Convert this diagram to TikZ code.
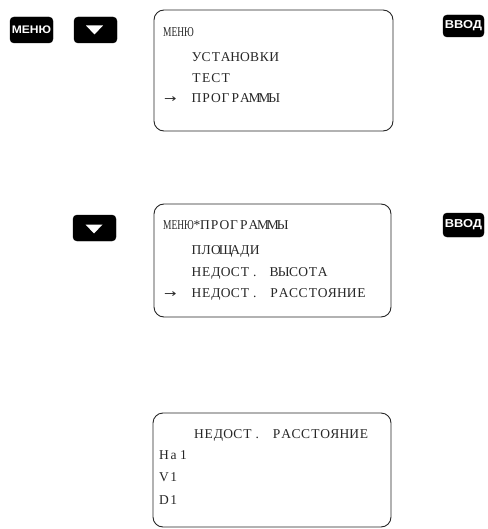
\documentclass[tikz,border=0pt]{standalone}
\usepackage{fontspec}
\setmainfont{Liberation Serif}
\newfontfamily\scrfont{Liberation Serif}
\newfontfamily\btnfont{Liberation Sans}
\newfontfamily\arrfont{DejaVu Sans}
\ExplSyntaxOn
\NewDocumentCommand\mono{m}{\tl_map_inline:nn {#1} {\makebox[9.7pt][c]{##1}}}
\ExplSyntaxOff
\newcommand\narrow[1]{\scalebox{0.7}[1]{#1}}
\newcommand\rarr{\scalebox{1.35}[1]{\arrfont\fontsize{11}{11}\selectfont →}}
\begin{document}
\begin{tikzpicture}[x=1pt,y=-1pt,
  screen/.style={draw=black!85,line width=0.9pt,rounded corners=10pt},
  btn/.style={fill=black,rounded corners=4pt},
  btntext/.style={text=white,inner sep=0pt},
  ln/.style={anchor=base west,inner sep=0pt,font=\scrfont\fontsize{13.5}{13.5}\selectfont,text=black!85}]
\useasboundingbox (0,0) rectangle (487,529);
% buttons row 1
\filldraw[btn] (10,17) rectangle (53,43);
\node[btntext] (menu) at (31.5,30) {\scalebox{1.1}[1]{\btnfont\bfseries\fontsize{11}{11}\selectfont МЕНЮ}};
\filldraw[btn] (74,17) rectangle (117,43);
\fill[white] (86,25.5) -- (103,25.5) -- (94.5,34.5) -- cycle;
\filldraw[btn] (443,15) rectangle (484,37);
\node[btntext] (enter1) at (463.5,26) {\scalebox{1.12}[1]{\btnfont\bfseries\fontsize{11.5}{11.5}\selectfont ВВОД}};
% screen 1
\draw[screen] (154,10) rectangle (393,131);
\node[ln] (s1a) at (163,37) {\narrow{МЕНЮ}};
\node[ln] (s1b) at (191.5,62) {\mono{УСТАНОВКИ}};
\node[ln] (s1c) at (191.5,82.5) {\mono{ТЕСТ}};
\node[ln] (s1d) at (164,103) {\rarr};
\node[ln] (s1e) at (191.5,103) {\mono{ПРОГРАММЫ}};
% buttons row 2
\filldraw[btn] (73,215) rectangle (116,241);
\fill[white] (85.5,224.5) -- (102.5,224.5) -- (94,233.5) -- cycle;
\filldraw[btn] (443,213) rectangle (484,237);
\node[btntext] (enter2) at (463.5,225) {\scalebox{1.12}[1]{\btnfont\bfseries\fontsize{11.5}{11.5}\selectfont ВВОД}};
% screen 2
\draw[screen] (154,204) rectangle (391,317);
\node[ln] (s2a) at (163,229) {\narrow{МЕНЮ}};
\node[ln] (s2s) at (192,229) {\mono{*}};
\node[ln] (s2t) at (200,229) {\mono{ПРОГРАММЫ}};
\node[ln] (s2b) at (191.5,254) {\mono{ПЛОЩАДИ}};
\node[ln] (s2c) at (191.5,276) {\mono{НЕДОСТ.~ВЫСОТА}};
\node[ln] (s2d) at (164,297) {\rarr};
\node[ln] (s2e) at (191.5,297) {\mono{НЕДОСТ.~РАССТОЯНИЕ}};
% screen 3
\draw[screen] (153,413) rectangle (391,527);
\node[ln] (s3a) at (194,438) {\mono{НЕДОСТ.~РАССТОЯНИЕ}};
\node[ln] (s3b) at (159,459) {\mono{Ha1}};
\node[ln] (s3c) at (159,481) {\mono{V1}};
\node[ln] (s3d) at (159,504) {\mono{D1}};
\end{tikzpicture}
\end{document}
